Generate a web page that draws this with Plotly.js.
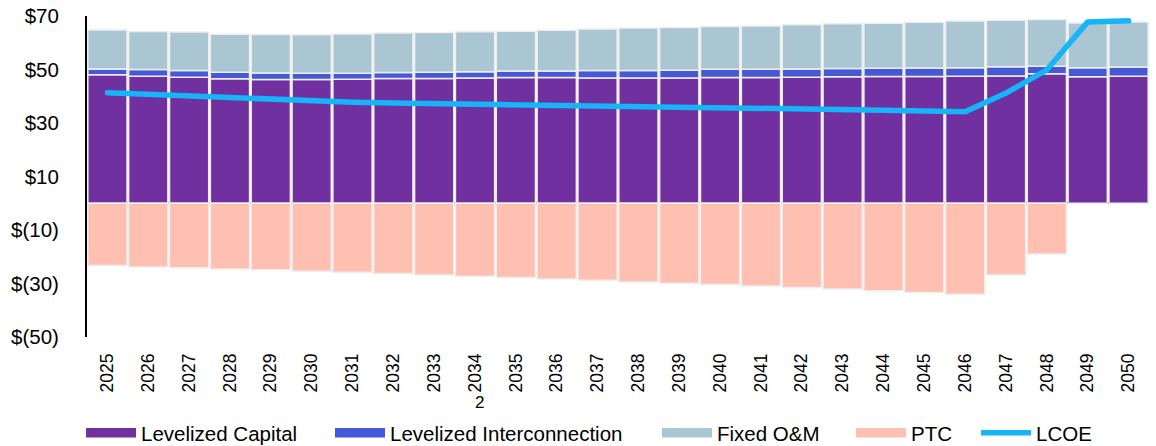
<!DOCTYPE html>
<html>
<head>
<meta charset="utf-8">
<script src="https://cdn.plot.ly/plotly-3.0.1.min.js"></script>
<style>
  html, body { margin: 0; padding: 0; background: #ffffff; }
  #chart { width: 1156px; height: 446px; }
  .scatterlayer .js-line { stroke-linecap: round; stroke-linejoin: round; }
</style>
</head>
<body>
<div id="chart"></div>
<script>
// Cost build-up per year, $/MWh
const years = [2025, 2026, 2027, 2028, 2029, 2030, 2031, 2032, 2033, 2034, 2035, 2036, 2037,
               2038, 2039, 2040, 2041, 2042, 2043, 2044, 2045, 2046, 2047, 2048, 2049, 2050];

const levelizedCapital = [48.0, 47.5, 47.1, 46.5, 46.3, 46.3, 46.4, 46.6, 46.6, 46.8, 47.0, 47.0, 46.8,
                          46.8, 46.8, 47.0, 47.0, 47.1, 47.3, 47.4, 47.4, 47.5, 47.6, 48.4, 47.3, 47.5];

const levelizedInterconnection = [2.2, 2.5, 2.5, 2.5, 2.4, 2.3, 2.2, 2.3, 2.4, 2.4, 2.4, 2.4, 2.8,
                                  2.8, 2.9, 3.1, 3.1, 3.1, 3.1, 3.1, 3.2, 3.2, 3.4, 2.8, 3.4, 3.4];

const fixedOM = [14.6, 14.2, 14.4, 14.2, 14.4, 14.4, 14.7, 14.7, 14.8, 14.9, 14.9, 15.3, 15.5,
                 15.9, 16.0, 16.0, 16.2, 16.5, 16.7, 16.8, 17.1, 17.4, 17.4, 17.5, 16.7, 16.9];

const ptc = [-23.3, -23.8, -24.1, -24.6, -24.9, -25.4, -25.8, -26.3, -26.8, -27.3, -27.8, -28.3, -28.8,
             -29.4, -29.9, -30.4, -30.9, -31.5, -32.1, -32.7, -33.4, -34.0, -26.8, -19.0, null, null];

const lcoe = [41.3, 40.7, 40.1, 39.3, 38.7, 38.0, 37.8, 37.5, 37.3, 37.2, 36.9, 36.7, 36.4,
              36.2, 36.0, 35.8, 35.5, 35.3, 35.0, 34.8, 34.5, 34.2, 41.2, 49.9, 67.8, 68.2];

const yTickVals = [70, 50, 30, 10, -10, -30, -50];
const yTickText = ['$70', '$50', '$30', '$10', '$(10)', '$(30)', '$(50)'];

const seriesNames = ['Levelized Capital', 'Levelized Interconnection', 'Fixed O&M', 'PTC', 'LCOE'];
const seriesColors = ['#7030a0', '#4659d4', '#a9c6d2', '#ffbfb1', '#16b4f8'];

const FONT = 'Arial, "Liberation Sans", sans-serif';
const barEdge = { color: '#eeeeee', width: 1.5 };

const stacks = [levelizedCapital, levelizedInterconnection, fixedOM, ptc];
const traces = stacks.map((vals, i) => ({
  type: 'bar',
  x: years,
  y: vals,
  name: seriesNames[i],
  marker: { color: seriesColors[i], line: barEdge },
  showlegend: false,
  hoverinfo: 'x+y+name'
}));

traces.push({
  type: 'scatter',
  mode: 'lines',
  x: years,
  y: lcoe,
  name: seriesNames[4],
  line: { color: seriesColors[4], width: 5.5 },
  legend: 'legend5'
});

// Legend keys for the stacked series (wide swatches)
const legendIds = ['legend', 'legend2', 'legend3', 'legend4'];
for (let i = 0; i < 4; i++) {
  traces.push({
    type: 'scatter',
    mode: 'lines',
    x: [null],
    y: [null],
    name: seriesNames[i],
    line: { color: seriesColors[i], width: 9.5 },
    legend: legendIds[i],
    hoverinfo: 'skip'
  });
}

const legendY = -0.299;
const legendX = [-0.0056, 0.2288, 0.5367, 0.7194, 0.8371];
function legendBox(x) {
  return {
    orientation: 'h', x: x, y: legendY, xanchor: 'left', yanchor: 'middle',
    font: { family: FONT, size: 20.5, color: '#000000' },
    bgcolor: 'rgba(0,0,0,0)', borderwidth: 0, itemwidth: 50,
    itemclick: false, itemdoubleclick: false
  };
}

const layout = {
  width: 1156,
  height: 446,
  margin: { l: 87, r: 7, t: 16, b: 109, pad: 0, autoexpand: false },
  paper_bgcolor: '#ffffff',
  plot_bgcolor: '#ffffff',
  font: { family: FONT, color: '#000000' },
  barmode: 'relative',
  bargap: 0.04,
  xaxis: {
    range: [2024.5, 2050.5],
    tickvals: years,
    ticktext: years.map(String),
    tickangle: -90,
    tickfont: { family: FONT, size: 17.5, color: '#000000' },
    showgrid: false,
    zeroline: false,
    showline: false,
    ticks: '',
    ticklabelstandoff: 12,
    fixedrange: true
  },
  yaxis: {
    range: [-50, 70],
    tickvals: yTickVals,
    ticktext: yTickText,
    tickfont: { family: FONT, size: 20.5, color: '#000000' },
    showgrid: false,
    showline: true,
    linecolor: '#000000',
    linewidth: 2,
    zeroline: true,
    zerolinecolor: '#000000',
    zerolinewidth: 2,
    ticks: '',
    ticklabelstandoff: 22,
    fixedrange: true
  },
  legend: legendBox(legendX[0]),
  legend2: legendBox(legendX[1]),
  legend3: legendBox(legendX[2]),
  legend4: legendBox(legendX[3]),
  legend5: legendBox(legendX[4]),
  annotations: [{
    text: '2', xref: 'paper', yref: 'paper', x: 0.370, y: -0.2025,
    showarrow: false, font: { family: FONT, size: 17, color: '#000000' },
    xanchor: 'center', yanchor: 'middle'
  }]
};

Plotly.newPlot('chart', traces, layout, { staticPlot: true, displayModeBar: false });
</script>
</body>
</html>
